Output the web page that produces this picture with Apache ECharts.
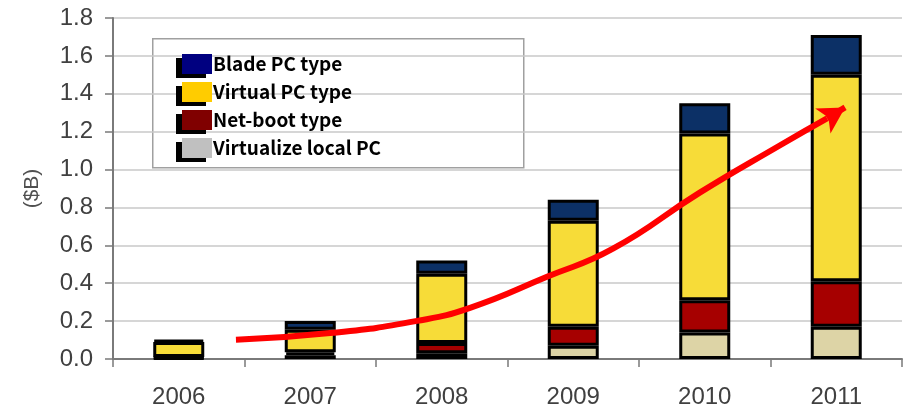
<!DOCTYPE html>
<html>
<head>
<meta charset="utf-8">
<script src="https://cdn.jsdelivr.net/npm/echarts@6/dist/echarts.min.js"></script>
<style>
html,body{margin:0;padding:0;background:#fff;}
#chart{width:904px;height:409px;}
</style>
</head>
<body>
<div id="chart"></div>
<script>
const categories = ['2006', '2007', '2008', '2009', '2010', '2011'];
const localPC   = [0.005, 0.02, 0.03, 0.07, 0.14, 0.17];
const netBoot   = [0.005, 0.015, 0.055, 0.10, 0.17, 0.24];
const virtualPC = [0.08, 0.12, 0.365, 0.56, 0.88, 1.09];
const bladePC   = [0.01, 0.045, 0.07, 0.11, 0.16, 0.21];
const seriesNames = ['Blade PC type', 'Virtual PC type', 'Net-boot type', 'Virtualize local PC'];
const yTicks = ['0.0','0.2','0.4','0.6','0.8','1.0','1.2','1.4','1.6','1.8'];
// trend arrow path in data space: [category position, value]
const trendPath = [[0.435, 0.101], [1.173, 0.138], [1.812, 0.201], [2.215, 0.27], [2.80, 0.434], [3.302, 0.582], [3.962, 0.878], [4.57, 1.127], [4.93, 1.27]];
const trendTip = [5.067, 1.328];

const chart = echarts.init(document.getElementById('chart'), null, {renderer: 'canvas'});
const barBorder = {borderColor: '#000', borderWidth: 3};
function bar(name, data, color) {
  return {
    name: name, type: 'bar', stack: 'total', data: data, barWidth: 51,
    itemStyle: Object.assign({color: color}, barBorder),
    xAxisIndex: 0, yAxisIndex: 0
  };
}
const option = {
  animation: false,
  backgroundColor: '#fff',
  grid: {left: 113, right: 2, top: 18, bottom: 49, containLabel: false},
  xAxis: [{
    type: 'category', data: categories,
    boundaryGap: true,
    axisLine: {show: true, lineStyle: {color: '#7a7a7a', width: 2}},
    axisTick: {show: true, alignWithLabel: false, length: 8, lineStyle: {color: '#7a7a7a', width: 1.5}},
    axisLabel: {fontFamily: 'Liberation Sans', fontSize: 24, color: '#404040', margin: 26},
    splitLine: {show: false}
  }, {
    type: 'value', min: -0.5, max: 5.5, show: false
  }],
  yAxis: {
    type: 'value', min: 0, max: 1.8, interval: 0.2,
    name: '($B)', nameLocation: 'middle', nameGap: 70, nameRotate: 90,
    nameTextStyle: {fontFamily: 'Liberation Sans', fontSize: 21, color: '#505050'},
    axisLine: {show: true, onZero: false, lineStyle: {color: '#7a7a7a', width: 2}},
    axisTick: {show: true, length: 8, lineStyle: {color: '#7a7a7a', width: 1.5}},
    axisLabel: {fontFamily: 'Liberation Sans', fontSize: 24, color: '#404040', margin: 20,
      formatter: function (v) { return yTicks[Math.round(v / 0.2)]; }},
    splitLine: {show: true, lineStyle: {color: '#c8c8c8', width: 1.5}}
  },
  legend: {
    orient: 'vertical', left: 177, top: 49,
    itemWidth: 30, itemHeight: 20, itemGap: 8,
    icon: 'rect',
    selectedMode: false,
    textStyle: {fontFamily: 'Noto Sans CJK JP', fontWeight: 'bold', fontSize: 19, color: '#000', padding: [0, 0, 0, -4]},
    itemStyle: {borderWidth: 0, shadowColor: '#000', shadowBlur: 0, shadowOffsetX: -6, shadowOffsetY: 4},
    data: [
      {name: seriesNames[0], itemStyle: {color: '#000080'}},
      {name: seriesNames[1], itemStyle: {color: '#ffcc00'}},
      {name: seriesNames[2], itemStyle: {color: '#800000'}},
      {name: seriesNames[3], itemStyle: {color: '#c0c0c0'}}
    ]
  },
  graphic: [{
    type: 'rect', left: 152, top: 38, z: -1,
    shape: {width: 371, height: 129},
    style: {fill: '#fff', stroke: '#a0a0a0', lineWidth: 1.5}
  }],
  series: [
    bar(seriesNames[3], localPC, '#ddd4a6'),
    bar(seriesNames[2], netBoot, '#a60000'),
    bar(seriesNames[1], virtualPC, '#f7dc38'),
    bar(seriesNames[0], bladePC, '#0c3066'),
    {
      name: 'trend', type: 'line', xAxisIndex: 1, yAxisIndex: 0,
      data: trendPath, smooth: 0.5, showSymbol: false, symbol: 'none',
      lineStyle: {color: '#ff0000', width: 6},
      z: 10, silent: true,
      markLine: {
        silent: true, animation: false,
        symbol: ['none', 'arrow'], symbolSize: [22, 26],
        label: {show: false},
        lineStyle: {color: '#ff0000', width: 6, type: 'solid'},
        data: [[{coord: trendPath[trendPath.length - 1]}, {coord: trendTip}]]
      }
    }
  ]
};
chart.setOption(option);
</script>
</body>
</html>
